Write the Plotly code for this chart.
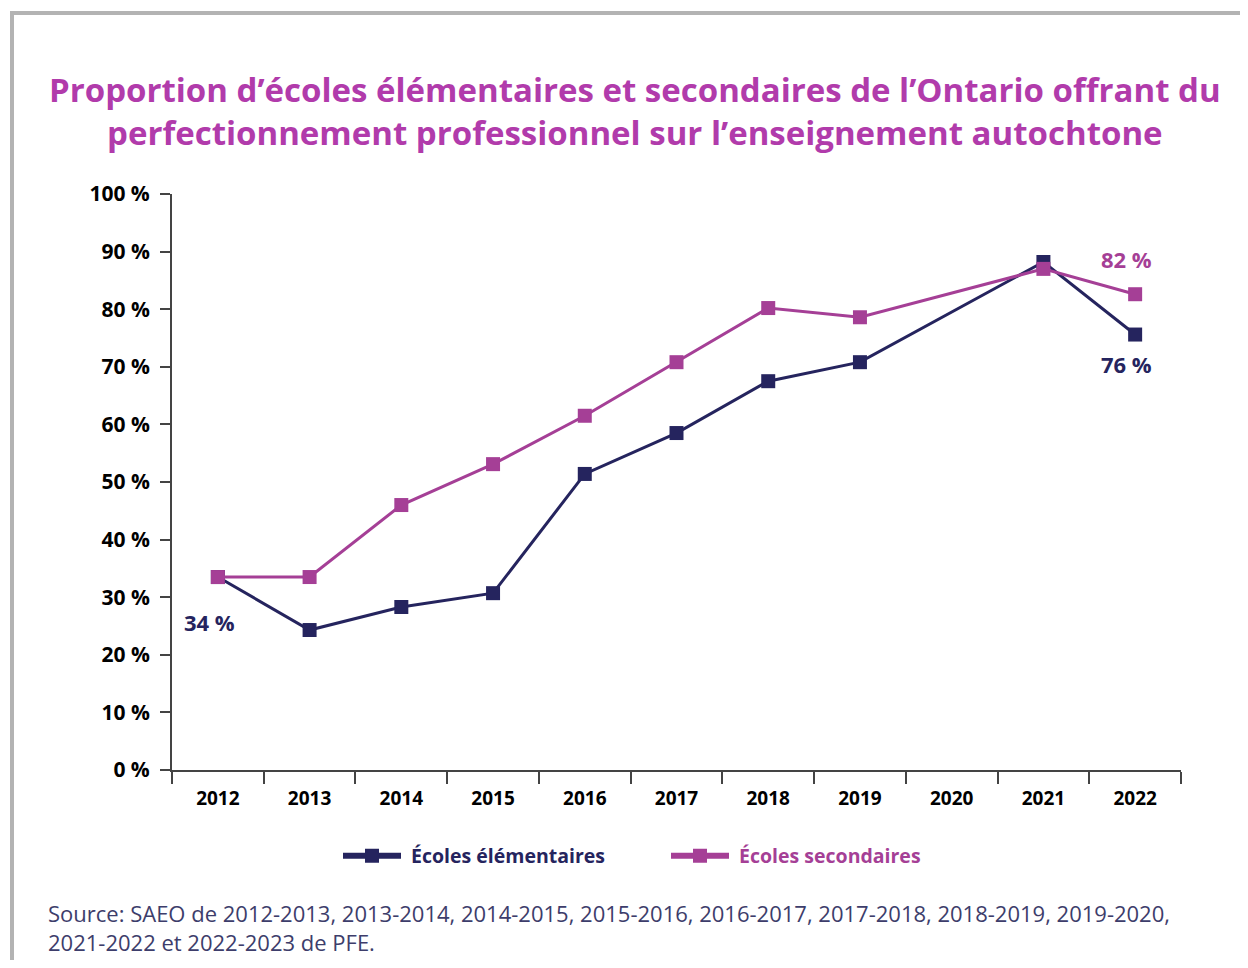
import plotly.graph_objects as go

years = ["2012", "2013", "2014", "2015", "2016", "2017", "2018", "2019", "2020", "2021", "2022"]
elementaires = [33.5, 24.3, 28.3, 30.7, 51.4, 58.5, 67.5, 70.8, None, 88.2, 75.6]
secondaires = [33.5, 33.5, 46.0, 53.1, 61.5, 70.8, 80.2, 78.6, None, 87.0, 82.6]
y_ticks = [0, 10, 20, 30, 40, 50, 60, 70, 80, 90, 100]
y_labels = [f"{v} %" for v in y_ticks]
series_names = ["Écoles élémentaires", "Écoles secondaires"]
title_lines = ["Proportion d’écoles élémentaires et secondaires de l’Ontario offrant du",
               "perfectionnement professionnel sur l’enseignement autochtone"]
source_lines = ["Source: SAEO de 2012-2013, 2013-2014, 2014-2015, 2015-2016, 2016-2017, 2017-2018, 2018-2019, 2019-2020,",
                "2021-2022 et 2022-2023 de PFE."]

NAVY = "#25245e"
PURPLE = "#a53f96"
TITLE = "#b13bab"
FONT = "Open Sans"

# the page has an 8px body margin, so figure coords = page coords - 8
W, H = 1232, 952
OFF = 8
L, R, T, B = 172 - OFF, 1181 - OFF, 194 - OFF, 770 - OFF
def px(x):
    return (x - OFF - L) / (R - L)
def py(y):
    return (B - (y - OFF)) / (B - T)

fig = go.Figure()
for vals, color in [(elementaires, NAVY), (secondaires, PURPLE)]:
    fig.add_trace(go.Scatter(
        x=years, y=vals, mode="lines+markers", connectgaps=True, showlegend=False,
        line=dict(color=color, width=3), marker=dict(symbol="square", size=14, color=color)))
# legend entries with the thicker line of the original key
for name, color in zip(series_names, [NAVY, PURPLE]):
    fig.add_trace(go.Scatter(
        x=[None], y=[None], mode="lines+markers",
        name=f"<span style='color:{color}'><b>\u00a0{name}</b></span>",
        line=dict(color=color, width=6), marker=dict(symbol="square", size=14, color=color)))

# value labels (category positions by index)
annots = [
    dict(x=0, y=elementaires[0], text="34 %", color=NAVY, xshift=-8, yshift=-45),
    dict(x=10, y=secondaires[-1], text="82 %", color=PURPLE, xshift=-9, yshift=35),
    dict(x=10, y=elementaires[-1], text="76 %", color=NAVY, xshift=-9, yshift=-29),
]
for a in annots:
    fig.add_annotation(x=a["x"], y=a["y"], xref="x", yref="y", text=f"<b>{a['text']}</b>",
                       showarrow=False, xshift=a["xshift"], yshift=a["yshift"],
                       font=dict(family=FONT, size=22, color=a["color"]))

fig.add_annotation(x=px(635), y=py(111), xref="paper", yref="paper", xanchor="center",
                   yanchor="middle", showarrow=False,
                   text="<br>".join(f"<b>{t}</b>" for t in title_lines),
                   font=dict(family=FONT, size=33, color=TITLE))

fig.add_annotation(x=px(46), y=py(927), xref="paper", yref="paper", xanchor="left",
                   yanchor="middle", align="left", showarrow=False,
                   text="<br>".join(source_lines),
                   font=dict(family=FONT, size=22, color="#3d3d6b"))

# gray frame on top and left
fig.add_shape(type="line", xref="paper", yref="paper", x0=px(10), x1=px(1270), y0=py(13), y1=py(13),
              line=dict(color="#b3b3b3", width=4))
fig.add_shape(type="line", xref="paper", yref="paper", x0=px(12), x1=px(12), y0=py(11), y1=py(990),
              line=dict(color="#b3b3b3", width=4))

fig.update_layout(
    width=W, height=H,
    margin=dict(l=L, r=W - R, t=T, b=H - B),
    paper_bgcolor="white", plot_bgcolor="white",
    font=dict(family=FONT, color="black"),
    legend=dict(orientation="h", x=px(338), xanchor="left", y=py(856), yanchor="middle",
                font=dict(family=FONT, size=19.5), itemwidth=58, entrywidth=255),
    showlegend=True,
)
fig.update_xaxes(type="category", categoryorder="array", categoryarray=years, range=[-0.5, 10.5],
                 showline=True, linecolor="#444", linewidth=2, ticks="outside", tickson="boundaries",
                 ticklen=12, tickcolor="#444", tickwidth=2, showgrid=False, zeroline=False,
                 ticklabelstandoff=10,
                 tickfont=dict(family=FONT, size=19, color="black"), tickprefix="<b>", ticksuffix="</b>")
fig.update_yaxes(range=[0, 100], tickvals=y_ticks, ticktext=[f"<b>{t}</b>" for t in y_labels],
                 showline=True, linecolor="#444", linewidth=2, ticks="outside", ticklen=10,
                 tickcolor="#444", tickwidth=2, showgrid=False, zeroline=False,
                 ticklabelstandoff=6,
                 tickfont=dict(family=FONT, size=21, color="black"))

fig.write_html("out.html")
